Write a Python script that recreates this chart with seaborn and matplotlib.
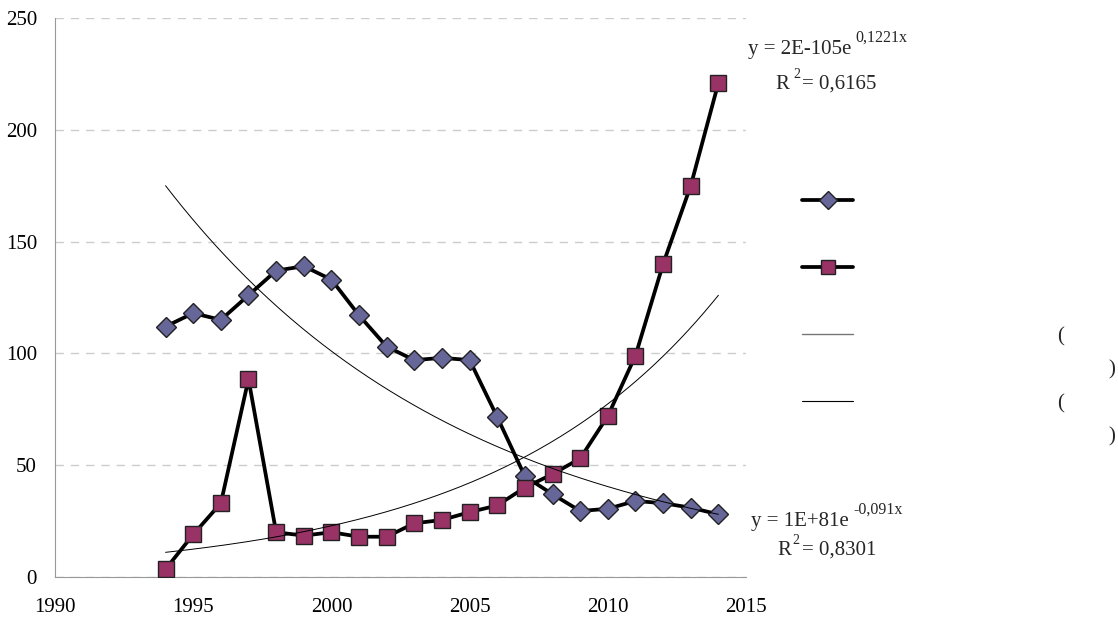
import numpy as np
import pandas as pd
import matplotlib
matplotlib.use("Agg")
import matplotlib.pyplot as plt
from matplotlib.lines import Line2D
import seaborn as sns

# data
years = list(range(1994, 2015))
series_a = [112, 118, 115, 126, 137, 139, 133, 117, 103, 97, 98, 97,
            71.5, 45, 37, 29.5, 30.5, 34, 33, 31, 28]
series_b = [3.5, 19, 33, 88.5, 20, 18.5, 20, 18, 18, 24, 25.5, 29,
            32, 40, 46, 53, 72, 99, 140, 175, 221]
eq_b = ("y = 2E-105e", "0,1221x", "R", "= 0,6165")
eq_a = ("y = 1E+81e", "-0,091x", "R", "= 0,8301")

df = pd.DataFrame({"year": years, "a": series_a, "b": series_b})

sns.set_style("white")
plt.rcParams["font.family"] = ["Liberation Serif", "DejaVu Serif"]

fig = plt.figure(figsize=(11.18, 6.21), dpi=100)
ax = fig.add_axes([0.0492, 0.0709, 0.6181, 0.9001])

# exponential trend lines (least squares on log)
xs = np.linspace(1994, 2014, 200)
ka = np.polyfit(df["year"], np.log(df["a"]), 1)
kb = np.polyfit(df["year"], np.log(df["b"]), 1)

sns.lineplot(data=df, x="year", y="a", ax=ax, color="black", lw=2.7,
             marker="D", markersize=10, markerfacecolor="#666699",
             markeredgecolor="#222222", markeredgewidth=1.0, zorder=3)
sns.lineplot(data=df, x="year", y="b", ax=ax, color="black", lw=2.7,
             marker="s", markersize=12, markerfacecolor="#993366",
             markeredgecolor="#222222", markeredgewidth=1.0, zorder=4)
ax.plot(xs, np.exp(np.polyval(ka, xs)), color="black", lw=0.7, zorder=5)
ax.plot(xs, np.exp(np.polyval(kb, xs)), color="black", lw=0.7, zorder=5)

ax.set_xlim(1990, 2015)
ax.set_ylim(0, 250)
ax.set_xticks(range(1990, 2016, 5))
ax.set_yticks(range(0, 251, 50))
ax.set_xlabel("")
ax.set_ylabel("")
ax.yaxis.grid(True, color="#cccccc", ls=(0, (6, 5)), lw=1)
ax.xaxis.grid(False)
for s in ["top", "right"]:
    ax.spines[s].set_visible(False)
for s in ["left", "bottom"]:
    ax.spines[s].set_color("#999999")
ax.tick_params(axis="both", labelsize=15, colors="#999999", labelcolor="black",
               direction="out", length=5, width=1)
ax.tick_params(axis="y", pad=8)
ax.tick_params(axis="x", pad=10)

# trend equations
fig.text(0.669, 0.913, eq_b[0], fontsize=15)
fig.text(0.7648, 0.933, eq_b[1], fontsize=11.5)
fig.text(0.6932, 0.857, eq_b[2], fontsize=15)
fig.text(0.7093, 0.874, "2", fontsize=10)
fig.text(0.7174, 0.857, eq_b[3], fontsize=15)

fig.text(0.6717, 0.153, eq_a[0], fontsize=15)
fig.text(0.763, 0.173, eq_a[1], fontsize=11.5)
fig.text(0.695, 0.1066, eq_a[2], fontsize=15)
fig.text(0.709, 0.1235, "2", fontsize=10)
fig.text(0.7174, 0.1066, eq_a[3], fontsize=15)

# legend (label text itself is missing in the original picture)
handles = [
    Line2D([], [], color="black", lw=2.7, marker="D", markersize=9.5,
           markerfacecolor="#666699", markeredgecolor="#222222"),
    Line2D([], [], color="black", lw=2.7, marker="s", markersize=10.5,
           markerfacecolor="#993366", markeredgecolor="#222222"),
    Line2D([], [], color="#777777", lw=1),
    Line2D([], [], color="black", lw=0.8),
]
fig.legend(handles, [" ", " ", " ", " "], loc="upper left",
           bbox_to_anchor=(0.7174, 0.689), frameon=False, handlelength=2.45,
           labelspacing=2.27, fontsize=15, borderpad=0, borderaxespad=0)
for yo, yc in [(0.4575, 0.4044), (0.3497, 0.2965)]:
    fig.text(0.9454, yo, "(", fontsize=15, va="center")
    fig.text(0.991, yc, ")", fontsize=15, va="center")

fig.savefig("out.png", dpi=100)
